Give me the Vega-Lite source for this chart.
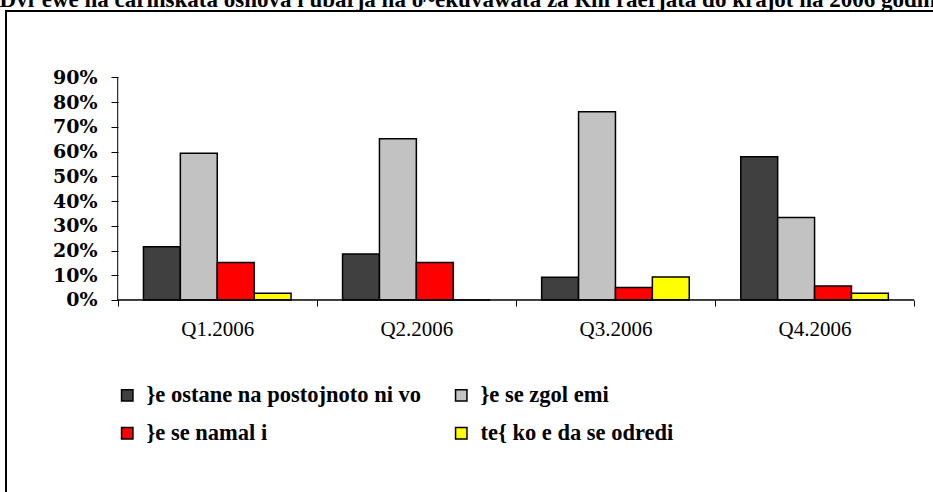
{
  "$schema": "https://vega.github.io/schema/vega-lite/v6.json",
  "width": 935,
  "height": 489,
  "autosize": {"type": "none"},
  "padding": {"left": 6, "top": 11, "right": 0, "bottom": 0},
  "background": "white",
  "title": {
    "text": "Dvi`ewe na carinskata osnova i ubarja na o~ekuvawata za Rni raerjata do krajot na 2006 godina",
    "anchor": "middle",
    "frame": "group",
    "font": "Liberation Serif",
    "fontSize": 23,
    "fontWeight": "bold",
    "baseline": "alphabetic",
    "offset": -19,
    "color": "#000"
  },
  "config": {
    "view": {"stroke": "#000", "strokeWidth": 2},
    "axis": {"labelColor": "#000", "tickColor": "#000", "grid": false, "domain": false}
  },
  "datasets": {
    "bars": [
      {"quarter": "Q1.2006", "series": "}e ostane na postojnoto ni vo", "value": 0.215},
      {"quarter": "Q1.2006", "series": "}e se zgol emi", "value": 0.593},
      {"quarter": "Q1.2006", "series": "}e se namal i", "value": 0.151},
      {"quarter": "Q1.2006", "series": "te{  ko e da se odredi", "value": 0.027},
      {"quarter": "Q2.2006", "series": "}e ostane na postojnoto ni vo", "value": 0.186},
      {"quarter": "Q2.2006", "series": "}e se zgol emi", "value": 0.652},
      {"quarter": "Q2.2006", "series": "}e se namal i", "value": 0.151},
      {"quarter": "Q2.2006", "series": "te{  ko e da se odredi", "value": 0.0},
      {"quarter": "Q3.2006", "series": "}e ostane na postojnoto ni vo", "value": 0.092},
      {"quarter": "Q3.2006", "series": "}e se zgol emi", "value": 0.761},
      {"quarter": "Q3.2006", "series": "}e se namal i", "value": 0.050},
      {"quarter": "Q3.2006", "series": "te{  ko e da se odredi", "value": 0.093},
      {"quarter": "Q4.2006", "series": "}e ostane na postojnoto ni vo", "value": 0.579},
      {"quarter": "Q4.2006", "series": "}e se zgol emi", "value": 0.333},
      {"quarter": "Q4.2006", "series": "}e se namal i", "value": 0.057},
      {"quarter": "Q4.2006", "series": "te{  ko e da se odredi", "value": 0.027}
    ],
    "quarters": [
      {"quarter": "Q1.2006"}, {"quarter": "Q2.2006"}, {"quarter": "Q3.2006"}, {"quarter": "Q4.2006"}
    ],
    "first": [{"quarter": "Q1.2006"}]
  },
  "layer": [
    {
      "data": {"name": "bars"},
      "mark": {"type": "bar", "stroke": "#000", "strokeWidth": 1.5},
      "encoding": {
        "x": {
          "field": "quarter", "type": "nominal", "sort": null,
          "scale": {"paddingInner": 0, "paddingOuter": 0.348, "align": 0.806},
          "axis": {
            "orient": "bottom", "offset": -200, "tickBand": "extent", "tickSize": 6,
            "labelAngle": 0, "labelFont": "Liberation Serif", "labelFontSize": 21,
            "labelPadding": 12, "title": null
          }
        },
        "xOffset": {
          "field": "series", "type": "nominal", "sort": null,
          "scale": {"paddingInner": 0, "paddingOuter": 0.698}
        },
        "y": {
          "field": "value", "type": "quantitative",
          "scale": {"domain": [-0.8085, 1.1681], "nice": false, "zero": false},
          "axis": {
            "values": [0, 0.1, 0.2, 0.3, 0.4, 0.5, 0.6, 0.7, 0.8, 0.9],
            "format": ".0%", "offset": -112, "tickSize": 7,
            "labelFont": "DejaVu Serif", "labelFontWeight": "bold", "labelFontSize": 19,
            "labelPadding": 14, "title": null
          }
        },
        "y2": {"datum": 0},
        "color": {
          "field": "series", "type": "nominal", "sort": null,
          "scale": {"range": ["#404040", "#c2c2c2", "#ff0000", "#ffff00"]},
          "legend": {
            "title": null, "orient": "none", "legendX": 110, "legendY": 373,
            "direction": "horizontal",
            "columns": 2, "columnPadding": 28, "rowPadding": 15, "padding": 0,
            "symbolType": "square", "symbolSize": 130, "symbolStrokeColor": "#000",
            "symbolStrokeWidth": 1.5, "symbolOpacity": 1,
            "labelFont": "Liberation Serif", "labelFontWeight": "bold",
            "labelFontSize": 22.5, "labelColor": "#000", "labelOffset": 8, "labelLimit": 0
          }
        }
      }
    },
    {
      "data": {"name": "quarters"},
      "mark": {"type": "rect", "stroke": "#000", "strokeWidth": 1, "fillOpacity": 0},
      "encoding": {
        "x": {"field": "quarter", "type": "nominal", "sort": null},
        "y": {"datum": 0, "type": "quantitative"},
        "y2": {"datum": 0}
      }
    },
    {
      "data": {"name": "first"},
      "mark": {"type": "rule", "color": "#000", "strokeWidth": 1},
      "encoding": {
        "x": {"field": "quarter", "type": "nominal", "bandPosition": 0},
        "y": {"datum": 0, "type": "quantitative"},
        "y2": {"datum": 0.9}
      }
    }
  ]
}
